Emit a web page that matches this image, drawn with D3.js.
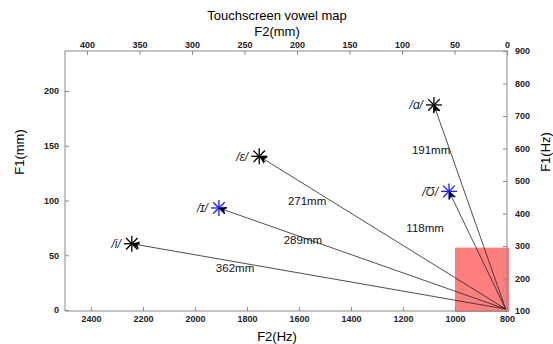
<!DOCTYPE html>
<html>
<head>
<meta charset="utf-8">
<script src="https://cdn.jsdelivr.net/npm/d3@7"></script>
<style>
  body { margin: 0; background: #fff; }
  text { font-family: "Liberation Sans", Arial, sans-serif; }
  .tick text { font-size: 9px; font-weight: bold; fill: #222; }
  .tick line, .domain { stroke: #888; }
</style>
</head>
<body>
<svg id="chart"></svg>
<script>
// vowel targets, in Hz
const vowels = ['/i/', '/ɪ/', '/ε/', '/ɑ/', '/Ʊ/']
const f2Hz = [2243, 1908, 1753, 1081, 1023]
const f1Hz = [307, 417, 576, 734, 468]
const vowelColors = ['#000', '#1a1aff', '#000', '#000', '#1a1aff']
// start point of all arrows
const startF2 = 805
const startF1 = 106
// distance annotations, anchored in data coords
const distLabels = ['362mm', '289mm', '271mm', '191mm', '118mm']
const distF2 = [1846, 1585, 1569, 1092, 1115]
const distF1 = [233, 319, 440, 594, 356]
// red target box
const boxF2 = [1000, 800]
const boxF1 = [100, 295]
// ticks
const f2HzTicks = [2400, 2200, 2000, 1800, 1600, 1400, 1200, 1000, 800]
const f2mmTicks = [400, 350, 300, 250, 200, 150, 100, 50, 0]
const f1HzTicks = [100, 200, 300, 400, 500, 600, 700, 800, 900]
const f1mmTicks = [0, 50, 100, 150, 200]

const width = 553, height = 344
const margin = {top: 51, right: 46, bottom: 33, left: 65}
const pLeft = margin.left, pRight = width - margin.right
const pTop = margin.top, pBottom = height - margin.bottom

const svg = d3.select('#chart')
  .attr('width', width)
  .attr('height', height)

const x = d3.scaleLinear().domain([2500, 800]).range([pLeft, pRight])
const y = d3.scaleLinear().domain([100, 900]).range([pBottom, pTop])
const xmm = d3.scaleLinear().domain([0, 400]).range([pRight, 87])
const ymm = d3.scaleLinear().domain([0, 200]).range([pBottom - 1, 91])
const fmt = d3.format('d')

// red box
svg.append('rect')
  .attr('x', x(boxF2[0]))
  .attr('y', y(boxF1[1]))
  .attr('width', x(boxF2[1]) - x(boxF2[0]) + 2)
  .attr('height', y(boxF1[0]) - y(boxF1[1]) + 1)
  .attr('fill', '#ff7f7f')

// frame
svg.append('rect')
  .attr('x', pLeft).attr('y', pTop)
  .attr('width', pRight - pLeft).attr('height', pBottom - pTop)
  .attr('fill', 'none').attr('stroke', '#888')

// axes, ticks pointing inward
svg.append('g').attr('transform', `translate(0,${pBottom})`)
  .call(d3.axisBottom(x).tickValues(f2HzTicks).tickFormat(fmt).tickSizeInner(-4).tickSizeOuter(0).tickPadding(5))
svg.append('g').attr('transform', `translate(0,${pTop})`)
  .call(d3.axisTop(xmm).tickValues(f2mmTicks).tickFormat(fmt).tickSizeInner(-4).tickSizeOuter(0).tickPadding(3))
svg.append('g').attr('transform', `translate(${pLeft},0)`)
  .call(d3.axisLeft(ymm).tickValues(f1mmTicks).tickFormat(fmt).tickSizeInner(-4).tickSizeOuter(0).tickPadding(6))
svg.append('g').attr('transform', `translate(${pRight},0)`)
  .call(d3.axisRight(y).tickValues(f1HzTicks).tickFormat(fmt).tickSizeInner(-4).tickSizeOuter(0).tickPadding(8))
svg.selectAll('.domain').remove()

// arrowhead
svg.append('defs').append('marker')
  .attr('id', 'head')
  .attr('viewBox', '0 0 10 10')
  .attr('refX', 10).attr('refY', 5)
  .attr('markerWidth', 12).attr('markerHeight', 8)
  .attr('markerUnits', 'userSpaceOnUse')
  .attr('orient', 'auto')
  .append('path').attr('d', 'M0,0 L10,5 L0,10 L3,5 Z').attr('fill', '#000')

const pts = vowels.map((v, i) => ({v, f2: f2Hz[i], f1: f1Hz[i], c: vowelColors[i]}))

// asterisk markers
const r = 8, rd = 5.8
const star = svg.selectAll('.star').data(pts).enter().append('g')
  .attr('transform', d => `translate(${x(d.f2)},${y(d.f1)})`)
  .attr('stroke', d => d.c).attr('stroke-width', 1.3)
star.append('line').attr('x1', -r).attr('x2', r)
star.append('line').attr('y1', -r).attr('y2', r)
star.append('line').attr('x1', -rd).attr('y1', -rd).attr('x2', rd).attr('y2', rd)
star.append('line').attr('x1', -rd).attr('y1', rd).attr('x2', rd).attr('y2', -rd)

// arrows
svg.selectAll('.arrow').data(pts).enter().append('line')
  .attr('x1', x(startF2)).attr('y1', y(startF1))
  .attr('x2', d => x(d.f2)).attr('y2', d => y(d.f1))
  .attr('stroke', '#222').attr('stroke-width', 0.8)
  .attr('marker-end', 'url(#head)')

// vowel labels
svg.selectAll('.vlab').data(pts).enter().append('text')
  .attr('x', d => x(d.f2) - 11)
  .attr('y', d => y(d.f1))
  .attr('dy', '0.35em')
  .attr('text-anchor', 'end')
  .style('font-size', '12px')
  .style('font-style', 'italic')
  .attr('fill', '#222')
  .text(d => d.v)

// distance labels
svg.selectAll('.dlab').data(distLabels).enter().append('text')
  .attr('x', (d, i) => x(distF2[i]))
  .attr('y', (d, i) => y(distF1[i]))
  .attr('dy', '0.35em')
  .attr('text-anchor', 'middle')
  .style('font-size', '11.5px')
  .attr('fill', '#111')
  .text(d => d)

// titles
svg.append('text').attr('x', 277).attr('y', 20).attr('text-anchor', 'middle')
  .style('font-size', '13px').text('Touchscreen vowel map')
svg.append('text').attr('x', 277).attr('y', 36).attr('text-anchor', 'middle')
  .style('font-size', '13px').text('F2(mm)')
svg.append('text').attr('x', 277).attr('y', 341).attr('text-anchor', 'middle')
  .style('font-size', '13px').text('F2(Hz)')
svg.append('text').attr('transform', 'translate(24,152) rotate(-90)').attr('text-anchor', 'middle')
  .style('font-size', '13px').text('F1(mm)')
svg.append('text').attr('transform', 'translate(550,152) rotate(-90)').attr('text-anchor', 'middle')
  .style('font-size', '13px').text('F1(Hz)')
</script>
</body>
</html>
